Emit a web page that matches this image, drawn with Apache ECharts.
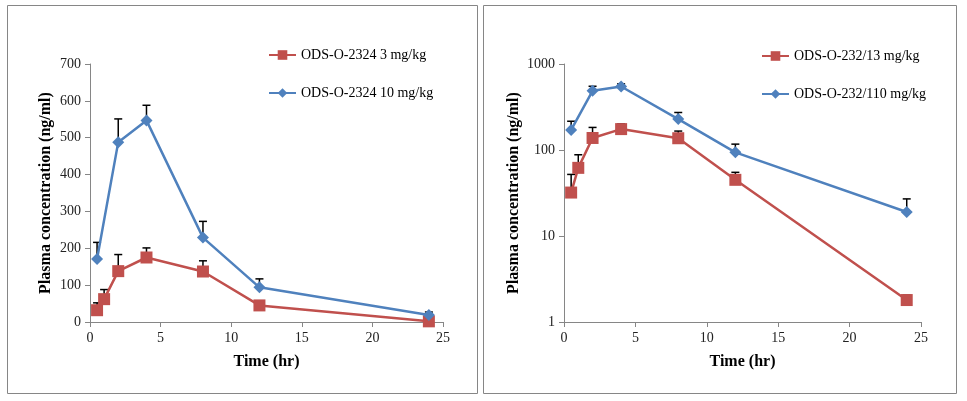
<!DOCTYPE html>
<html>
<head>
<meta charset="utf-8">
<script src="https://cdn.jsdelivr.net/npm/echarts@6/dist/echarts.min.js"></script>
<style>html,body{margin:0;padding:0;background:#fff}#c{width:967px;height:401px}</style>
</head>
<body>
<div id="c"></div>
<script>
// ---- data ----
const times3 = [0.5, 1, 2, 4, 8, 12, 24];
const dose3Mean = [32, 62, 138, 175, 137, 45, 1.8];
const dose3SD = [20, 26, 45, 26, 29, 10, 0.25];
const times10 = [0.5, 2, 4, 8, 12, 24];
const dose10Mean = [171, 488, 547, 229, 94, 19];
const dose10SD = [45, 63, 41, 44, 23, 8];
const namesLeft = ['ODS-O-2324 3 mg/kg', 'ODS-O-2324 10 mg/kg'];
const namesRight = ['ODS-O-232/13 mg/kg', 'ODS-O-232/110 mg/kg'];
const xTitle = 'Time (hr)';
const yTitle = 'Plasma concentration (ng/ml)';

const RED = '#C0504D', BLUE = '#4F81BD', AXIS = '#868686';
const FONT = "'Liberation Serif', 'Times New Roman', serif";

const chart = echarts.init(document.getElementById('c'), null, {renderer: 'canvas'});

function pts(t, m) { return t.map((x, i) => [x, m[i]]); }
function errPts(t, m, s) { return t.map((x, i) => [x, m[i], m[i] + s[i]]); }

function errSeries(xi, yi, data) {
  return {
    type: 'custom', xAxisIndex: xi, yAxisIndex: yi, z: 1, silent: true,
    data: data,
    renderItem: function (params, api) {
      const p0 = api.coord([api.value(0), api.value(1)]);
      const p1 = api.coord([api.value(0), api.value(2)]);
      const hw = 4;
      return {
        type: 'group',
        children: [
          {type: 'line', shape: {x1: p0[0], y1: p0[1], x2: p1[0], y2: p1[1]}, style: {stroke: '#000', lineWidth: 1.5}},
          {type: 'line', shape: {x1: p1[0] - hw, y1: p1[1], x2: p1[0] + hw, y2: p1[1]}, style: {stroke: '#000', lineWidth: 1.5}}
        ]
      };
    }
  };
}

function lineSeries(name, xi, yi, data, color, sym, size) {
  return {
    name: name, type: 'line', xAxisIndex: xi, yAxisIndex: yi, z: 3,
    data: data, symbol: sym, symbolSize: size, showSymbol: true,
    lineStyle: {color: color, width: 2.5}, itemStyle: {color: color},
    animation: false
  };
}

const axisLabelStyle = {color: '#222', fontFamily: FONT, fontSize: 14};
const nameStyle = {color: '#000', fontFamily: FONT, fontSize: 16, fontWeight: 'bold'};

function xAx(gi) {
  return {
    type: 'value', gridIndex: gi, min: 0, max: 25, interval: 5,
    axisLine: {show: true, onZero: false, lineStyle: {color: AXIS, width: 1}},
    axisTick: {show: true, length: 5, lineStyle: {color: AXIS}},
    axisLabel: Object.assign({margin: 9}, axisLabelStyle),
    splitLine: {show: false},
    name: xTitle, nameLocation: 'middle', nameGap: 32, nameTextStyle: nameStyle
  };
}

const legendText = {fontFamily: FONT, fontSize: 14, color: '#000'};

const option = {
  animation: false,
  backgroundColor: '#fff',
  graphic: [
    {type: 'rect', shape: {x: 7.5, y: 5.5, width: 470, height: 388}, style: {fill: 'none', stroke: AXIS, lineWidth: 1}},
    {type: 'rect', shape: {x: 483.5, y: 5.5, width: 473, height: 388}, style: {fill: 'none', stroke: AXIS, lineWidth: 1}}
  ],
  grid: [
    {left: 90, right: 967 - 443, top: 64, bottom: 401 - 322},
    {left: 564, right: 967 - 921, top: 64, bottom: 401 - 322}
  ],
  xAxis: [xAx(0), xAx(1)],
  yAxis: [
    {
      type: 'value', gridIndex: 0, min: 0, max: 700, interval: 100,
      axisLine: {show: true, lineStyle: {color: AXIS, width: 1}},
      axisTick: {show: true, length: 5, lineStyle: {color: AXIS}},
      axisLabel: Object.assign({margin: 9}, axisLabelStyle),
      splitLine: {show: false},
      name: yTitle, nameLocation: 'middle', nameGap: 36, nameRotate: 90, nameTextStyle: nameStyle
    },
    {
      type: 'log', logBase: 10, gridIndex: 1, min: 1, max: 1000,
      axisLine: {show: true, lineStyle: {color: AXIS, width: 1}},
      axisTick: {show: true, length: 5, lineStyle: {color: AXIS}},
      axisLabel: Object.assign({margin: 9, formatter: function (v) { return String(Math.round(v)); }}, axisLabelStyle),
      splitLine: {show: false}, minorTick: {show: false},
      name: yTitle, nameLocation: 'middle', nameGap: 42, nameRotate: 90, nameTextStyle: nameStyle
    }
  ],
  legend: [
    {
      data: namesLeft, orient: 'vertical', left: 263, top: 43, itemWidth: 27, itemHeight: 12, itemGap: 24,
      textStyle: legendText, selectedMode: false
    },
    {
      data: namesRight, orient: 'vertical', left: 756, top: 44, itemWidth: 27, itemHeight: 12, itemGap: 24,
      textStyle: legendText, selectedMode: false
    }
  ],
  series: [
    errSeries(0, 0, errPts(times3, dose3Mean, dose3SD)),
    errSeries(0, 0, errPts(times10, dose10Mean, dose10SD)),
    errSeries(1, 1, errPts(times3, dose3Mean, dose3SD)),
    errSeries(1, 1, errPts(times10, dose10Mean, dose10SD)),
    lineSeries(namesLeft[0], 0, 0, pts(times3, dose3Mean), RED, 'rect', 12),
    lineSeries(namesLeft[1], 0, 0, pts(times10, dose10Mean), BLUE, 'diamond', 12),
    lineSeries(namesRight[0], 1, 1, pts(times3, dose3Mean), RED, 'rect', 12),
    lineSeries(namesRight[1], 1, 1, pts(times10, dose10Mean), BLUE, 'diamond', 12)
  ]
};
chart.setOption(option);
</script>
</body>
</html>
